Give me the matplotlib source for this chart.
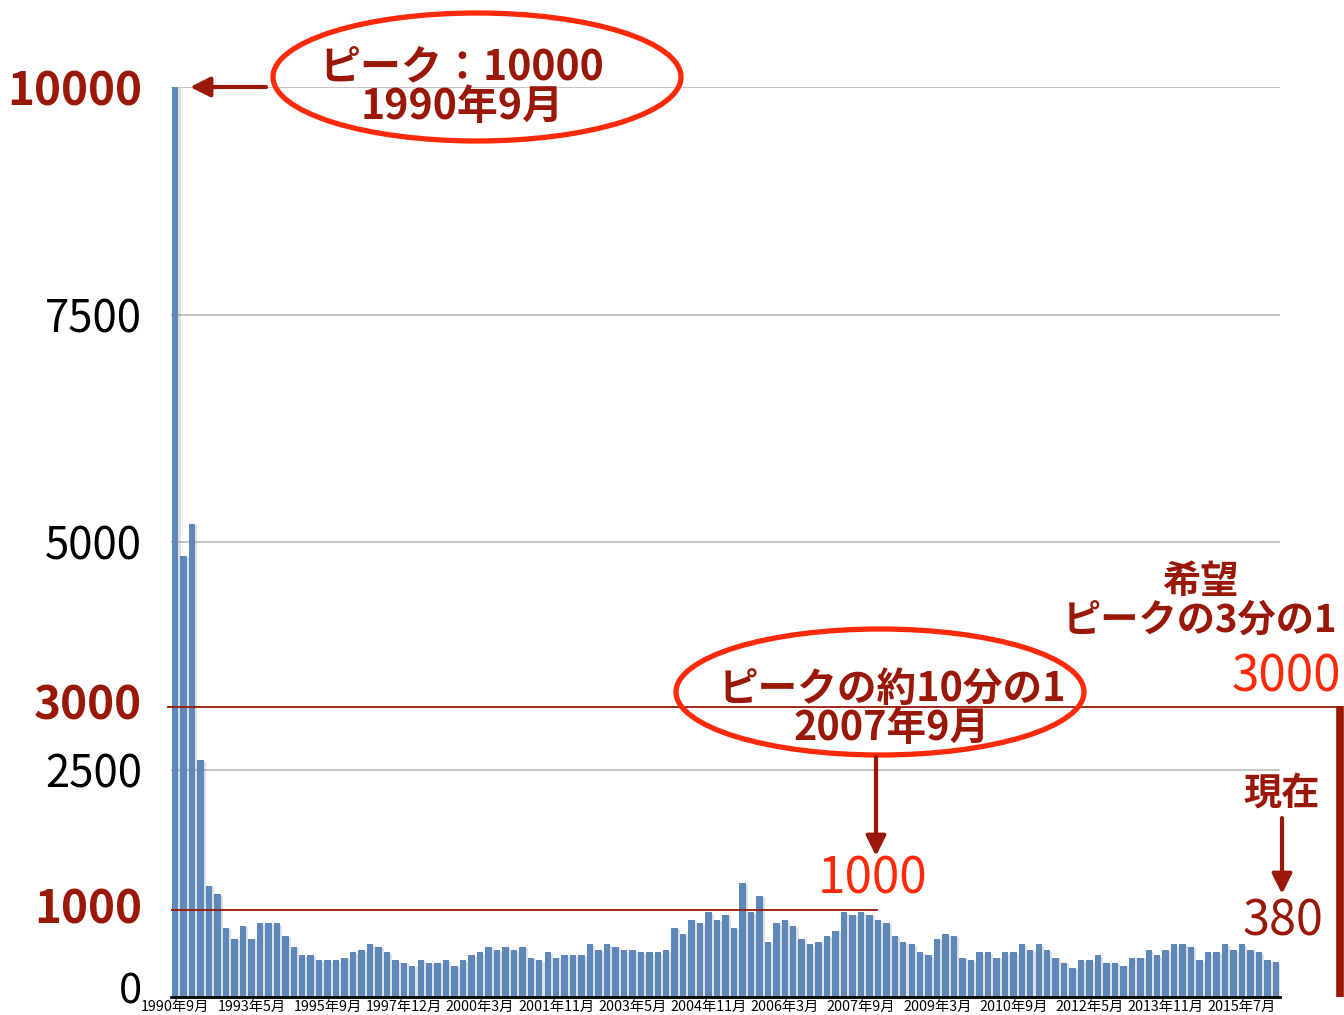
import matplotlib.pyplot as plt
import matplotlib.patheffects as pe
from matplotlib.patches import Ellipse

plt.rcParams['font.family'] = ['Noto Sans CJK JP', 'DejaVu Sans']

# 値 (1990年9月 = 10000 としたときの推移)
values = [
    10000, 4850, 5200, 2600, 1220, 1130, 760, 640, 780, 640,
    810, 810, 810, 670, 550, 460, 460, 405, 405, 405,
    430, 490, 515, 580, 550, 490, 405, 375, 340, 405,
    375, 375, 405, 340, 405, 460, 490, 550, 515, 550,
    515, 550, 430, 405, 490, 430, 460, 460, 460, 580,
    515, 580, 550, 515, 515, 490, 490, 490, 515, 760,
    690, 845, 810, 930, 845, 900, 760, 1250, 930, 1110,
    600, 810, 845, 780, 640, 580, 600, 670, 725, 930,
    900, 930, 900, 845, 810, 670, 600, 580, 490, 460,
    640, 690, 670, 430, 405, 490, 490, 430, 490, 490,
    580, 515, 580, 515, 430, 375, 320, 405, 405, 460,
    375, 375, 340, 430, 430, 515, 460, 515, 580, 580,
    550, 405, 490, 490, 580, 515, 580, 515, 490, 405,
    380,
]
x_labels = ['1990年9月', '1993年5月', '1995年9月', '1997年12月', '2000年3月',
            '2001年11月', '2003年5月', '2004年11月', '2006年3月', '2007年9月',
            '2009年3月', '2010年9月', '2012年5月', '2013年11月', '2015年7月']
label_step = 9
y_ticks = [0, 2500, 5000, 7500, 10000]
# 注釈の横線 (図の上での位置)
line_hope = 3190
line_2007 = 955

dark_red = '#9A1808'
bright_red = '#FF2A0A'
bar_color = '#5E87BC'

W, H = 1344, 1015
fig = plt.figure(figsize=(W / 100, H / 100), dpi=100)
ax = fig.add_axes([171 / W, 1 - 997 / H, (1280 - 171) / W, (997 - 87) / H])

xs = list(range(len(values)))
bars = ax.bar(xs, values, width=0.76, color=bar_color, zorder=3)
for b in bars:
    b.set_path_effects([pe.SimplePatchShadow(offset=(1.5, -1), alpha=0.25, shadow_rgbFace='gray'),
                        pe.Normal()])

ax.set_xlim(-0.5, len(values) - 0.5)
ax.set_ylim(0, 10000)

for y in y_ticks[1:]:
    ax.axhline(y, color='#C0C0C0', lw=1.3, zorder=1)

for s in ['top', 'right', 'left']:
    ax.spines[s].set_visible(False)
ax.spines['bottom'].set_color('black')
ax.spines['bottom'].set_linewidth(2)
ax.spines['bottom'].set_zorder(4)

ax.set_xticks(xs[::label_step][:len(x_labels)])
ax.set_xticklabels(x_labels, fontsize=10.3)
ax.tick_params(axis='x', length=0, pad=2)

# 0 のラベルは下端で切れないように別に描く
ax.set_yticks(y_ticks)
ax.set_yticklabels([''] + [str(v) for v in y_ticks[1:]], fontsize=31.5)
ax.tick_params(axis='y', length=0, pad=21)
top_lab = ax.get_yticklabels()[-1]
top_lab.set_color(dark_red)
top_lab.set_fontweight('bold')
top_lab.set_fontsize(33)

# 横線
ax.axhline(line_hope, xmin=-0.003, xmax=(1340 - 171) / (1280 - 171), color=dark_red,
           lw=1.3, zorder=5, clip_on=False)
ax.axhline(line_2007, xmin=0, xmax=(877 - 171) / (1280 - 171), color=dark_red,
           lw=1.3, zorder=5)

# 注釈用のオーバーレイ (ピクセル座標)
ov = fig.add_axes([0, 0, 1, 1], zorder=10)
ov.set_xlim(0, W)
ov.set_ylim(H, 0)
ov.axis('off')
ov.patch.set_alpha(0)

ov.text(142, 992, '0', color='black', fontsize=30, ha='right', va='center')
ov.text(142, 706, '3000', color=dark_red, fontsize=33, fontweight='bold', ha='right', va='center')
ov.text(142, 910, '1000', color=dark_red, fontsize=33, fontweight='bold', ha='right', va='center')

arrow = dict(arrowstyle='-|>', mutation_scale=30, lw=3, color=dark_red, shrinkA=0, shrinkB=0)

ov.add_patch(Ellipse((477, 77), 408, 128, fill=False, ec=bright_red, lw=3.8))
ov.text(462, 87, 'ピーク：10000\n1990年9月', color=dark_red, fontsize=29.5, fontweight='bold',
        ha='center', va='center', linespacing=0.92)
ov.annotate('', xy=(190, 87), xytext=(266, 87), arrowprops=arrow)

ov.add_patch(Ellipse((880, 692), 408, 126, fill=False, ec=bright_red, lw=3.8))
ov.text(892, 709, 'ピークの約10分の1\n2007年9月', color=dark_red, fontsize=28.5, fontweight='bold',
        ha='center', va='center', linespacing=0.95)
ov.annotate('', xy=(876, 856), xytext=(876, 757), arrowprops=arrow)
ov.text(872, 880, '1000', color=bright_red, fontsize=35.5, ha='center', va='center')

ov.text(1200, 601, '希望\nピークの3分の1', color=dark_red, fontsize=27.5, fontweight='bold',
        ha='center', va='center', linespacing=1.0)
ov.text(1286, 677, '3000', color=bright_red, fontsize=35.5, ha='center', va='center')

ov.text(1282, 793, '現在', color=dark_red, fontsize=27.5, fontweight='bold', ha='center', va='center')
ov.annotate('', xy=(1282, 894), xytext=(1282, 818), arrowprops=arrow)
ov.text(1283, 922, '380', color=dark_red, fontsize=35, ha='center', va='center')

ov.plot([1340, 1340], [706, 997], color=dark_red, lw=5.5, solid_capstyle='butt')

fig.savefig('out.png', dpi=100, facecolor='white')
